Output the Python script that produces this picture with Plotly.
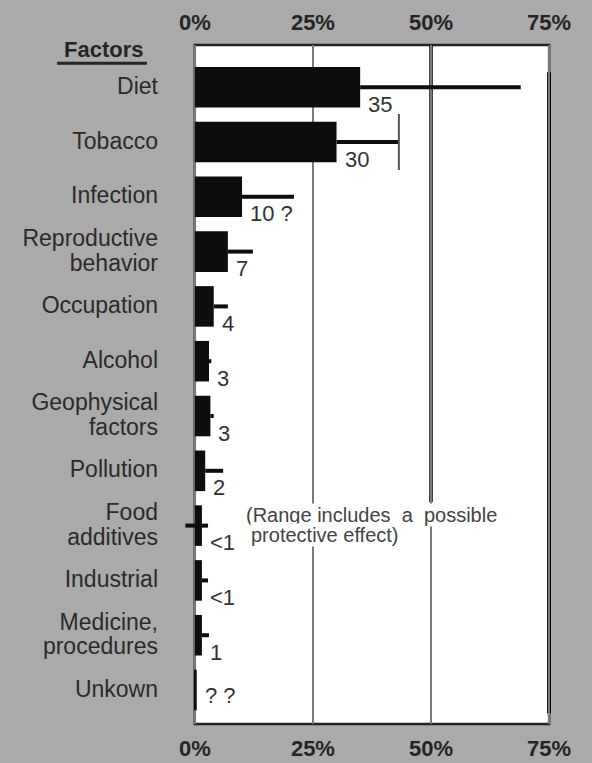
import plotly.graph_objects as go

# --- data (percent of cancer deaths) ---
factors = [
    "Diet", "Tobacco", "Infection", "Reproductive<br>behavior", "Occupation",
    "Alcohol", "Geophysical<br>factors", "Pollution", "Food<br>additives",
    "Industrial", "Medicine,<br>procedures", "Unkown",
]
best_pct = [35, 30, 10, 7, 4, 3, 3.3, 2.2, 1.5, 1.5, 1.5, 0.4]
low_pct = [35, 30, 10, 7, 4, 3, 3.3, 2.2, -2.0, 1.5, 1.5, 0.4]
high_pct = [69, 43.2, 21, 12.3, 7, 3.5, 4, 6, 2.8, 2.8, 3, 0.4]
value_labels = ["35", "30", "10 ?", "7", "4", "3", "3", "2", "<1", "<1", "1", "? ?"]
pct_ticks = [0, 25, 50, 75]

FONT = "Liberation Sans, Arial, Helvetica, sans-serif"
BG = "#aaaaaa"
INK = "#252525"

plus = [h - b for h, b in zip(high_pct, best_pct)]
minus = [b - l for b, l in zip(best_pct, low_pct)]


def big_lines(label, px=23):
    # larger glyphs, but the line spacing stays that of the base font
    return "<br>".join(f'<span style="font-size:{px}px">{p}</span>' for p in label.split("<br>"))


fig = go.Figure()
fig.add_bar(
    x=best_pct,
    y=factors,
    orientation="h",
    width=0.74,
    marker={"color": "#0d0d0d", "line": {"width": 0}},
    error_x={
        "type": "data",
        "symmetric": False,
        "array": plus,
        "arrayminus": minus,
        "color": "#0d0d0d",
        "thickness": 4,
        "width": 0,
    },
    hoverinfo="skip",
)
# end cap on the tobacco range
fig.add_scatter(
    x=[high_pct[1]],
    y=[factors[1]],
    mode="markers",
    marker={"symbol": "line-ns", "size": 40, "line": {"width": 2, "color": "#555"}},
    hoverinfo="skip",
)
# anchors the top percentage axis
fig.add_scatter(
    x=pct_ticks,
    y=[factors[0]] * len(pct_ticks),
    xaxis="x2",
    mode="markers",
    marker={"opacity": 0},
    hoverinfo="skip",
)

annotations = []
for f, b, txt in zip(factors, best_pct, value_labels):
    annotations.append(
        dict(
            x=b, y=f, xref="x", yref="y", text=txt, showarrow=False,
            xanchor="left", yanchor="middle",
            xshift=6, yshift=-5 if txt == "? ?" else -17,
            font={"family": FONT, "size": 22, "color": "#333"},
        )
    )

# note next to food additives
for txt, dy, dx in [("(Range includes  a  possible", 11, 0), ("protective effect)", -9, 5)]:
    annotations.append(
        dict(
            x=10.6, y=factors[8], xref="x", yref="y", text=txt, showarrow=False,
            xanchor="left", yanchor="middle", xshift=dx, yshift=dy,
            bgcolor="white", borderpad=0,
            font={"family": FONT, "size": 20, "color": "#444"},
        )
    )

annotations.append(
    dict(
        x=-0.104, y=0.994, xref="paper", yref="paper", text="<b>Factors</b>",
        showarrow=False, xanchor="right", yanchor="middle",
        font={"family": FONT, "size": 22, "color": INK},
    )
)

shapes = [
    # white plotting panel from 0% to 75%
    dict(type="rect", xref="x", yref="paper", x0=0, x1=75, y0=0, y1=1,
         fillcolor="white", line={"color": "#222", "width": 2.5}, layer="below"),
    # underline under "Factors"
    dict(type="line", xref="paper", yref="paper", x0=-0.342, x1=-0.098, y0=0.973, y1=0.973,
         line={"color": INK, "width": 3}),
    # heavy reference line at 50%
    dict(type="line", xref="x", yref="paper", x0=50, x1=50, y0=0.327, y1=1,
         line={"color": "black", "width": 3.5}, layer="between"),
    # heavy right edge
    dict(type="line", xref="x", yref="paper", x0=75, x1=75, y0=0.016, y1=0.96,
         line={"color": "black", "width": 4}, layer="between"),
]

tick_font = {"family": FONT, "size": 22, "color": INK, "weight": "bold"}
axis_common = dict(
    range=[-2.5, 75.4],
    tickvals=pct_ticks,
    ticktext=[f"{t}%" for t in pct_ticks],
    tickfont=tick_font,
    showline=False,
    zeroline=False,
    ticks="outside",
    ticklen=5,
    tickcolor="rgba(0,0,0,0)",
    automargin=False,
)

fig.update_layout(
    width=592,
    height=763,
    margin={"l": 183, "r": 41, "t": 45, "b": 39},
    paper_bgcolor=BG,
    plot_bgcolor="rgba(0,0,0,0)",
    showlegend=False,
    font={"family": FONT, "color": INK},
    xaxis=dict(axis_common, side="bottom", showgrid=True, gridcolor="#7a7a7a", gridwidth=1.5),
    xaxis2=dict(axis_common, side="top", overlaying="x", matches="x", showgrid=False),
    yaxis=dict(
        type="category",
        categoryorder="array",
        categoryarray=factors,
        tickvals=factors,
        ticktext=[big_lines(f) for f in factors],
        range=[11.62, -0.77],
        showgrid=False,
        zeroline=False,
        showline=False,
        ticks="",
        ticklabelstandoff=24,
        automargin=False,
        tickfont={"family": FONT, "size": 19, "color": "#2a2a2a"},
    ),
    annotations=annotations,
    shapes=shapes,
)

fig.write_html(
    "out.html",
    config={"displayModeBar": False},
    post_script="document.body.style.margin='0';",
)
